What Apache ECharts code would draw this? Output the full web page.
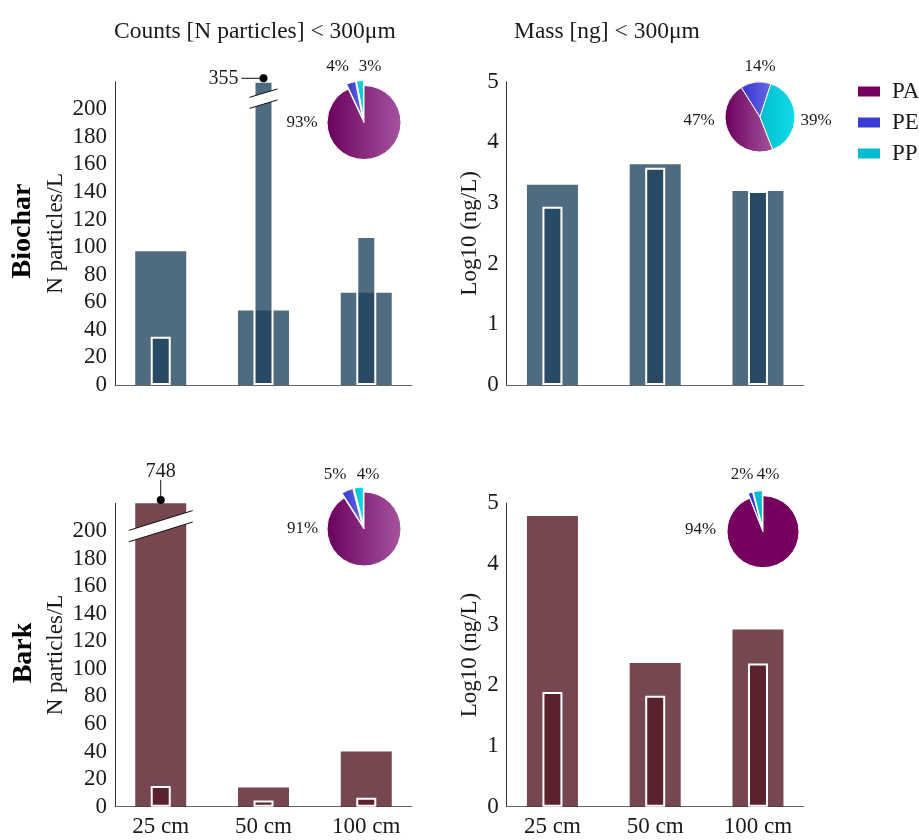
<!DOCTYPE html>
<html>
<head>
<meta charset="utf-8">
<script src="https://cdn.jsdelivr.net/npm/echarts@6/dist/echarts.min.js"></script>
<style>
  html, body { margin: 0; padding: 0; background: #fff; }
  #chart { width: 919px; height: 840px; }
</style>
</head>
<body>
<div id="chart"></div>
<script>
// ---- data ----
const categories = ['25 cm', '50 cm', '100 cm'];
const polymers = ['PA', 'PE', 'PP'];

// particle counts per litre (wide bar / narrow bar)
const biocharCountWide = [97, 54, 67];
const biocharCountNarrow = [35, 355, 108];
const barkCountWide = [748, 14, 40];
const barkCountNarrow = [15, 4.5, 6.5];

// log10 mass per litre (wide bar / narrow bar)
const biocharMassWide = [3.30, 3.64, 3.20];
const biocharMassNarrow = [2.94, 3.58, 3.20];
const barkMassWide = [4.79, 2.37, 2.92];
const barkMassNarrow = [1.89, 1.83, 2.36];

// polymer shares, percent
const biocharCountShare = [93, 4, 3];
const biocharMassShare = [47, 14, 39];
const barkCountShare = [91, 5, 4];
const barkMassShare = [94, 2, 4];

const countTicks = [0, 20, 40, 60, 80, 100, 120, 140, 160, 180, 200];
const massTicks = [0, 1, 2, 3, 4, 5];

// ---- styling ----
const FONT = '"Liberation Serif", "Times New Roman", Times, serif';
const TEXT = '#1a1a1a';
const BIOCHAR_FILL = 'rgba(29,65,92,0.78)';
const BARK_FILL = 'rgba(84,25,35,0.8)';
const X_MIN = 0.555, X_MAX = 3.445;
const COUNT_MAX = 220;

const grids = [
  { left: 115, top: 81.7, width: 297, height: 303.3 },   // biochar counts
  { left: 506.7, top: 81.7, width: 297, height: 303.3 }, // biochar mass
  { left: 115, top: 503.3, width: 297, height: 303.4 },  // bark counts
  { left: 506.7, top: 503.3, width: 297, height: 303.4 } // bark mass
];

function xAxes(gridIndex, showLabels) {
  const base = {
    type: 'value', gridIndex: gridIndex, min: X_MIN, max: X_MAX,
    splitLine: { show: false },
    axisLine: { show: true, onZero: false, lineStyle: { color: '#666', width: 1 } },
    axisTick: { show: true, inside: true, length: 4, customValues: [1, 2, 3], lineStyle: { color: '#444' } },
    axisLabel: {
      show: showLabels, customValues: [1, 2, 3], margin: 9,
      formatter: v => categories[Math.round(v) - 1],
      fontFamily: FONT, fontSize: 23, color: TEXT
    }
  };
  return [base, { type: 'value', gridIndex: gridIndex, min: X_MIN, max: X_MAX, show: false }];
}

function yAxis(gridIndex, kind) {
  const isCount = kind === 'count';
  return {
    type: 'value', gridIndex: gridIndex, min: 0,
    max: isCount ? COUNT_MAX : massTicks[massTicks.length - 1],
    interval: isCount ? 20 : 1,
    name: isCount ? 'N particles/L' : 'Log10 (ng/L)',
    nameLocation: 'middle',
    nameGap: isCount ? 48 : 25,
    nameTextStyle: { fontFamily: FONT, fontSize: 23, color: TEXT },
    splitLine: { show: false },
    axisTick: { show: false },
    axisLine: { show: true, lineStyle: { color: '#333', width: 1 } },
    axisLabel: {
      margin: 8, fontFamily: FONT, fontSize: 23, color: TEXT,
      formatter: v => {
        const list = isCount ? countTicks : massTicks;
        return list.indexOf(v) >= 0 ? String(v) : '';
      }
    }
  };
}

function barPair(gridIndex, wide, narrow, fill) {
  return [
    {
      type: 'bar', xAxisIndex: gridIndex * 2, yAxisIndex: gridIndex,
      barWidth: 51, z: 2, silent: true, clip: true,
      itemStyle: { color: fill },
      data: wide.map((v, i) => [i + 1, v])
    },
    {
      type: 'bar', xAxisIndex: gridIndex * 2 + 1, yAxisIndex: gridIndex,
      barWidth: 20, z: 3, silent: true, clip: true,
      itemStyle: { color: fill, borderColor: '#ffffff', borderWidth: 2 },
      data: narrow.map((v, i) => [i + 1, v])
    }
  ];
}

function grad(a, b) {
  return { type: 'linear', x: 0, y: 0, x2: 1, y2: 0, colorStops: [{ offset: 0, color: a }, { offset: 1, color: b }] };
}
const shadedColors = [grad('#6a005c', '#a5549f'), grad('#3232cc', '#6a6ae6'), grad('#00bccc', '#12dde8')];
const flatColors = ['#76005e', '#3a3ad6', '#00bcd0'];

// pie centres, radii and the spot of each percentage label relative to the centre
const pieLayout = [
  { center: [364, 122.5], radius: 37, start: 90, explode: true, offsets: [[-62, 0], [-26.5, -56], [6, -56]] },
  { center: [760, 117], radius: 35, start: 291.4, explode: false, offsets: [[-61, 4], [0, -50], [56, 4]] },
  { center: [364, 529], radius: 37, start: 90, explode: true, offsets: [[-61.5, 0], [-29, -54], [4, -54]] },
  { center: [763, 531.7], radius: 36, start: 90, explode: true, offsets: [[-62.5, -2], [-21, -57], [5, -57]] }
];
const pieShares = [biocharCountShare, biocharMassShare, barkCountShare, barkMassShare];
const pieColors = [shadedColors, shadedColors, shadedColors, flatColors];

function pie(k) {
  const L = pieLayout[k];
  return {
    type: 'pie', center: L.center, radius: L.radius, startAngle: L.start, clockwise: true,
    selectedMode: L.explode ? 'multiple' : false, selectedOffset: 5,
    silent: true, animation: false,
    emphasis: { scale: false },
    select: { itemStyle: { borderColor: '#fff', borderWidth: 1 } },
    itemStyle: { borderColor: '#fff', borderWidth: 1 },
    label: { show: false },
    labelLine: { show: false },
    data: polymers.map((n, i) => ({
      name: n, value: pieShares[k][i], selected: L.explode && i > 0,
      itemStyle: { color: pieColors[k][i] }
    }))
  };
}

const chart = echarts.init(document.getElementById('chart'), null, { renderer: 'canvas' });

chart.setOption({
  animation: false,
  backgroundColor: '#ffffff',
  textStyle: { fontFamily: FONT },
  title: [
    { text: 'Counts [N particles] < 300μm', left: 109, top: 15,
      textStyle: { fontFamily: FONT, fontSize: 23.5, fontWeight: 'normal', color: TEXT } },
    { text: 'Mass [ng] < 300μm', left: 509, top: 15,
      textStyle: { fontFamily: FONT, fontSize: 23.5, fontWeight: 'normal', color: TEXT } }
  ],
  legend: {
    orient: 'vertical', left: 856, top: 80, padding: 0,
    itemWidth: 24, itemHeight: 12, itemGap: 8,
    icon: 'rect', selectedMode: false,
    textStyle: { fontFamily: FONT, fontSize: 23, color: TEXT, padding: [0, 0, 0, 6] },
    data: polymers.map((n, i) => ({ name: n, itemStyle: { color: flatColors[i] } }))
  },
  grid: grids,
  xAxis: [].concat(xAxes(0, false), xAxes(1, false), xAxes(2, true), xAxes(3, true)),
  yAxis: [yAxis(0, 'count'), yAxis(1, 'mass'), yAxis(2, 'count'), yAxis(3, 'mass')],
  series: [].concat(
    barPair(0, biocharCountWide, biocharCountNarrow, BIOCHAR_FILL),
    barPair(1, biocharMassWide, biocharMassNarrow, BIOCHAR_FILL),
    barPair(2, barkCountWide, barkCountNarrow, BARK_FILL),
    barPair(3, barkMassWide, barkMassNarrow, BARK_FILL),
    [pie(0), pie(1), pie(2), pie(3)]
  )
});

// ---- axis breaks, off-scale value callouts, pie percentages ----
function px(gridIndex, x, y) {
  return chart.convertToPixel({ xAxisIndex: gridIndex * 2, yAxisIndex: gridIndex }, [x, y]);
}

function breakMark(gridIndex, x, y, half, slope, gap) {
  const c = px(gridIndex, x, y);
  const yl = c[1] - slope * half, yr = c[1] + slope * half;
  const p1 = [c[0] - half, yl - gap / 2], p2 = [c[0] + half, yr - gap / 2];
  const p3 = [c[0] + half, yr + gap / 2], p4 = [c[0] - half, yl + gap / 2];
  return [
    { type: 'polygon', z: 100, silent: true, shape: { points: [p1, p2, p3, p4] }, style: { fill: '#ffffff' } },
    { type: 'line', z: 101, silent: true, shape: { x1: p1[0], y1: p1[1], x2: p2[0], y2: p2[1] }, style: { stroke: '#111', lineWidth: 1 } },
    { type: 'line', z: 101, silent: true, shape: { x1: p4[0], y1: p4[1], x2: p3[0], y2: p3[1] }, style: { stroke: '#111', lineWidth: 1 } }
  ];
}

function overflowMarker(gridIndex, idx, values, side) {
  const top = px(gridIndex, idx + 1, COUNT_MAX);
  const dot = [top[0], top[1] - 3.4];
  const items = [{ type: 'circle', z: 102, silent: true, shape: { cx: dot[0], cy: dot[1], r: 4 }, style: { fill: '#000' } }];
  if (side === 'left') {
    items.push({ type: 'line', z: 102, silent: true, shape: { x1: dot[0] - 22, y1: dot[1], x2: dot[0], y2: dot[1] }, style: { stroke: '#111', lineWidth: 1 } });
    items.push({ type: 'text', z: 102, silent: true, x: dot[0] - 25, y: dot[1],
      style: { text: String(values[idx]), fontFamily: FONT, fontSize: 20, fill: TEXT, align: 'right', verticalAlign: 'middle' } });
  } else {
    items.push({ type: 'line', z: 102, silent: true, shape: { x1: dot[0], y1: dot[1] - 20, x2: dot[0], y2: dot[1] }, style: { stroke: '#111', lineWidth: 1 } });
    items.push({ type: 'text', z: 102, silent: true, x: dot[0], y: dot[1] - 28,
      style: { text: String(values[idx]), fontFamily: FONT, fontSize: 20, fill: TEXT, align: 'center', verticalAlign: 'middle' } });
  }
  return items;
}

function pieLabels(k) {
  const L = pieLayout[k];
  return pieShares[k].map((v, i) => ({
    type: 'text', z: 102, silent: true,
    x: L.center[0] + L.offsets[i][0], y: L.center[1] + L.offsets[i][1],
    style: { text: v + '%', fontFamily: FONT, fontSize: 17, fill: TEXT, align: 'center', verticalAlign: 'middle' }
  }));
}

const rowLabel = (text, x, y) => ({
  type: 'text', x: x, y: y, rotation: Math.PI / 2, silent: true,
  style: { text: text, fontFamily: FONT, fontSize: 28, fontWeight: 'bold', fill: '#000', align: 'center', verticalAlign: 'middle' }
});

chart.setOption({
  graphic: [].concat(
    breakMark(0, 2, 207.7, 14, -0.3, 11),
    breakMark(2, 1, 203.4, 32, -0.31, 11.4),
    overflowMarker(0, 1, biocharCountNarrow, 'left'),
    overflowMarker(2, 0, barkCountWide, 'up'),
    pieLabels(0), pieLabels(1), pieLabels(2), pieLabels(3),
    [rowLabel('Biochar', 22.5, 231), rowLabel('Bark', 24, 653)]
  )
});
</script>
</body>
</html>
